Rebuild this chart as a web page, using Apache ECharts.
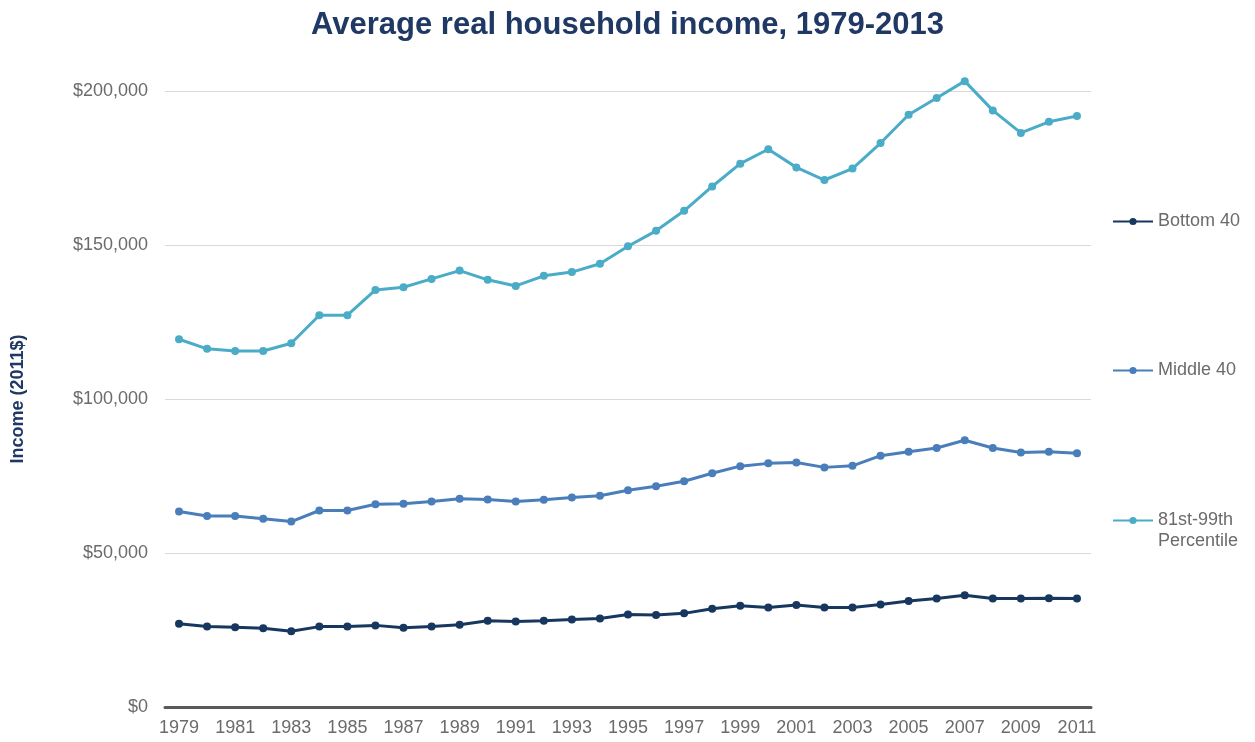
<!DOCTYPE html>
<html>
<head>
<meta charset="utf-8">
<title>Average real household income</title>
<script src="https://cdn.jsdelivr.net/npm/echarts@6/dist/echarts.min.js"></script>
<style>
html, body { margin: 0; padding: 0; background: #fff; }
#incomechart { width: 1255px; height: 742px; }
</style>
</head>
<body>
<div id="incomechart"></div>
<script>
// years on the x axis
var years = ['1979','1980','1981','1982','1983','1984','1985','1986','1987','1988','1989',
  '1990','1991','1992','1993','1994','1995','1996','1997','1998','1999','2000',
  '2001','2002','2003','2004','2005','2006','2007','2008','2009','2010','2011'];

// average income per group, 2011 dollars
var bottom40 = [27000,26100,25900,25600,24600,26100,26100,26500,25700,26100,26700,
  28000,27800,28000,28400,28700,30000,29900,30400,31900,32900,32300,
  33100,32300,32300,33300,34400,35200,36300,35200,35200,35300,35200];
var middle40 = [63500,62000,62000,61100,60200,63800,63800,65800,66000,66700,67600,
  67400,66700,67300,68000,68600,70400,71700,73300,75900,78200,79100,
  79400,77800,78300,81600,82900,84100,86600,84100,82600,82900,82400];
var top81to99 = [119400,116300,115600,115600,118100,127200,127200,135400,136300,139000,141700,
  138700,136700,140000,141200,143900,149600,154600,161100,169000,176400,181100,
  175200,171100,174800,183100,192300,197700,203200,193700,186400,190000,191900];

var seriesNames = ['Bottom 40', 'Middle 40', '81st-99th Percentile'];
var seriesData = [bottom40, middle40, top81to99];
var colors = ['#17375e', '#4a7ebb', '#4aacc6'];

var font = '"Liberation Sans", Arial, sans-serif';
var labelGray = '#6b6b6b';

var chart = echarts.init(document.getElementById('incomechart'));

var series = [];
for (var i = 0; i < seriesNames.length; i++) {
  series.push({
    name: seriesNames[i],
    type: 'line',
    data: seriesData[i],
    symbol: 'circle',
    symbolSize: 8,
    clip: false,
    lineStyle: { width: 3, color: colors[i] },
    itemStyle: { color: colors[i] },
    emphasis: { disabled: true }
  });
}

function legendItem(name, top, formatter) {
  var lg = {
    data: [name],
    left: 1112,
    top: top,
    padding: 0,
    orient: 'vertical',
    itemWidth: 40,
    itemHeight: 9,
    itemGap: 0,
    selectedMode: false,
    textStyle: { color: labelGray, fontSize: 18, fontFamily: font, lineHeight: 21 }
  };
  if (formatter) lg.formatter = formatter;
  return lg;
}

var option = {
  backgroundColor: '#ffffff',
  animation: false,
  color: colors,
  title: {
    text: 'Average real household income, 1979-2013',
    left: 'center',
    top: 5,
    textStyle: { color: '#1f3864', fontSize: 31, fontWeight: 'bold', fontFamily: font }
  },
  legend: [
    legendItem('Bottom 40', 211),
    legendItem('Middle 40', 360),
    // blank first line keeps the marker level with "81st-99th"
    legendItem('81st-99th Percentile', 489, function () { return '\n81st-99th\nPercentile'; })
  ],
  grid: { left: 165, right: 164, top: 91, bottom: 35 },
  xAxis: {
    type: 'category',
    data: years,
    boundaryGap: true,
    axisLine: { lineStyle: { color: '#595959', width: 3 } },
    axisTick: { show: false },
    axisLabel: { interval: 1, color: labelGray, fontSize: 18, fontFamily: font, margin: 12 }
  },
  yAxis: {
    type: 'value',
    min: 0,
    max: 200000,
    interval: 50000,
    name: 'Income (2011$)',
    nameLocation: 'middle',
    nameGap: 138,
    nameTextStyle: { color: '#1f3864', fontSize: 18, fontWeight: 'bold', fontFamily: font },
    axisLine: { show: false },
    axisTick: { show: false },
    splitLine: { lineStyle: { color: '#d9d9d9', width: 1 } },
    axisLabel: {
      color: labelGray, fontSize: 18, fontFamily: font, margin: 17,
      formatter: function (v) { return '$' + v.toLocaleString('en-US'); }
    }
  },
  series: series
};

chart.setOption(option);
</script>
</body>
</html>
